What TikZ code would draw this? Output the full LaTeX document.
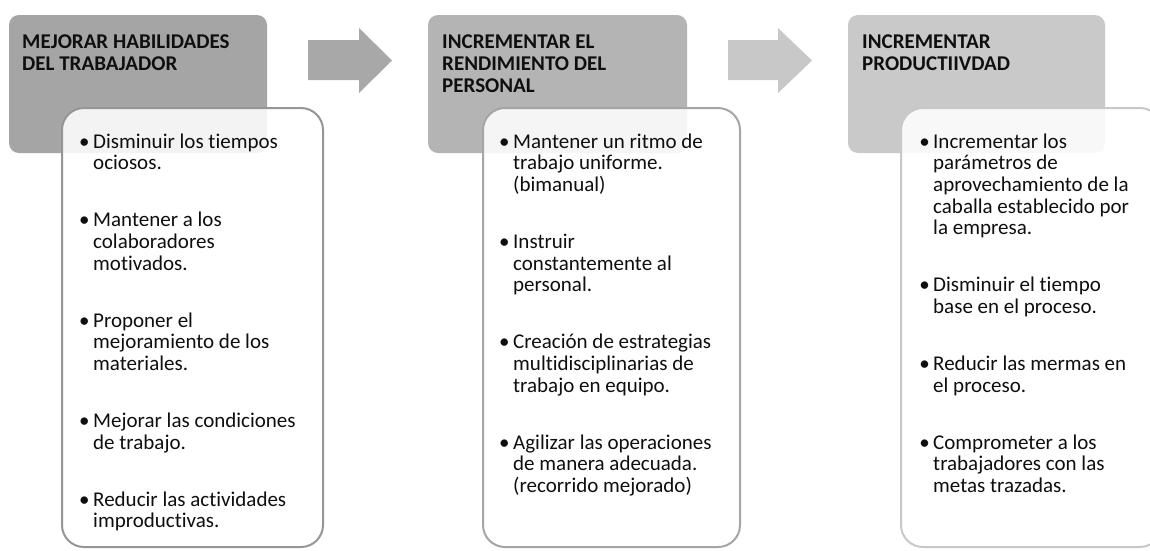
\documentclass[tikz,border=0pt]{standalone}
\usepackage{fontspec}
\setmainfont{Carlito}[Ligatures=NoCommon]
\newcommand\bodyfs{\fontsize{21}{21.6}\selectfont}
\newcommand\hdrfs{\fontsize{21}{22}\selectfont\bfseries}
\newcommand\bul{\llap{•\hspace{3.5pt}}}
\definecolor{hA}{RGB}{165,165,165}
\definecolor{hB}{RGB}{180,180,180}
\definecolor{hC}{RGB}{201,201,201}
\definecolor{aA}{RGB}{168,168,168}
\definecolor{aB}{RGB}{200,200,200}
\definecolor{bA}{RGB}{150,150,150}
\definecolor{bB}{RGB}{165,165,165}
\definecolor{bC}{RGB}{200,200,200}
\definecolor{txt}{RGB}{15,15,15}
\tikzset{
  hdrbox/.style={rounded corners=10pt},
  bodybox/.style={rounded corners=22pt, line width=2pt, fill=white, fill opacity=0.87, draw opacity=1},
  hdrtext/.style={anchor=north west, inner sep=0pt, align=left, font=\hdrfs, text=txt},
  item/.style={anchor=north west, inner sep=0pt, align=left, font=\bodyfs, text=txt},
  blockarrow/.style={draw=none}
}
\begin{document}
\begin{tikzpicture}[x=1pt,y=-1pt]
\useasboundingbox (0,0) rectangle (1150,550);
\fill[white] (0,0) rectangle (1150,550);

% column 1
\fill[hA, hdrbox] (9,15) rectangle (267,153);
\draw[bA, bodybox] (62,108) rectangle (323,547);
\node[hdrtext] (h1) at (22,32.6) {\strut MEJORAR HABILIDADES\\DEL TRABAJADOR};
\node[item] (a1) at (93,132.9) {\strut\bul Disminuir los tiempos\\ociosos.};
\node[item] (a2) at (93,211.6) {\strut\bul Mantener a los\\colaboradores\\motivados.};
\node[item] (a3) at (93,311.9) {\strut\bul Proponer el\\mejoramiento de los\\materiales.};
\node[item] (a4) at (93,412.2) {\strut\bul Mejorar las condiciones\\de trabajo.};
\node[item] (a5) at (93,490.9) {\strut\bul Reducir las actividades\\improductivas.};

% arrow 1
\fill[aA, blockarrow] (308,40) -- (359,40) -- (359,28) -- (392,60.5) -- (359,93) -- (359,80) -- (308,80) -- cycle;

% column 2
\fill[hB, hdrbox] (428,15) rectangle (687,153);
\draw[bB, bodybox] (483,108) rectangle (740,547);
\node[hdrtext] (h2) at (442,32.6) {\strut INCREMENTAR EL\\RENDIMIENTO DEL\\PERSONAL};
\node[item] (b1) at (513,132.9) {\strut\bul Mantener un ritmo de\\trabajo uniforme.\\(bimanual)};
\node[item] (b2) at (513,233.2) {\strut\bul Instruir\\constantemente al\\personal.};
\node[item] (b3) at (513,333.5) {\strut\bul Creación de estrategias\\multidisciplinarias de\\trabajo en equipo.};
\node[item] (b4) at (513,433.8) {\strut\bul Agilizar las operaciones\\de manera adecuada.\\(recorrido mejorado)};

% arrow 2
\fill[aB, blockarrow] (728,40) -- (778,40) -- (778,28) -- (812,60.5) -- (778,93) -- (778,80) -- (728,80) -- cycle;

% column 3
\fill[hC, hdrbox] (848,15) rectangle (1105,153);
\draw[bC, bodybox] (901,108) rectangle (1162,547);
\node[hdrtext] (h3) at (862,32.6) {\strut INCREMENTAR\\PRODUCTIIVDAD};
\node[item] (c1) at (933,132.9) {\strut\bul Incrementar los\\parámetros de\\aprovechamiento de la\\caballa establecido por\\la empresa.};
\node[item] (c2) at (933,276.4) {\strut\bul Disminuir el tiempo\\base en el proceso.};
\node[item] (c3) at (933,355.1) {\strut\bul Reducir las mermas en\\el proceso.};
\node[item] (c4) at (933,433.8) {\strut\bul Comprometer a los\\trabajadores con las\\metas trazadas.};
\end{tikzpicture}
\end{document}
